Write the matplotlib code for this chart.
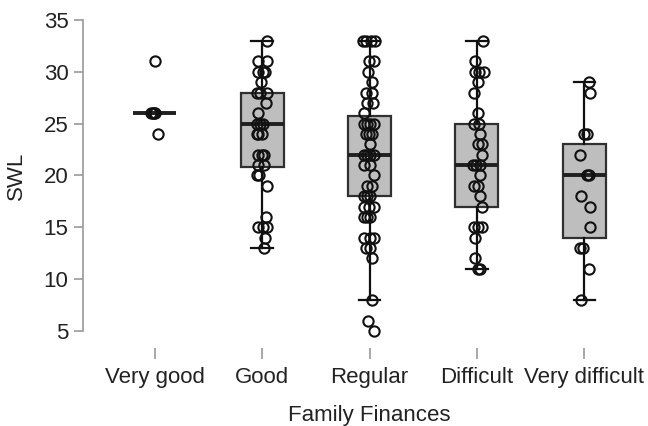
import matplotlib
matplotlib.use("Agg")
import matplotlib.pyplot as plt

plt.rcParams['font.family'] = ['Liberation Sans', 'DejaVu Sans']

categories = ["Very good", "Good", "Regular", "Difficult", "Very difficult"]

# box statistics
q1 = [26, 20.8, 18.0, 17.0, 14.0]
medians = [26, 25.0, 22.0, 21.0, 20.0]
q3 = [26, 28.0, 25.75, 25.0, 23.0]
whisk_lo = [26, 13, 8, 11, 8]
whisk_hi = [26, 33, 33, 33, 29]

# individual observations (value) and their horizontal jitter as seen
vg_vals = [31, 26, 26, 26, 26, 24]
vg_jit = [0.0, -0.033, -0.02, -0.008, 0.005, 0.03]

good_vals = [33, 31, 31, 30, 30, 30, 29, 28, 28, 28, 27, 26, 25, 25, 25,
             24, 24, 24, 22, 22, 22, 21, 21, 20, 20, 19, 16, 15, 15, 15, 14, 13]
good_jit = [0.044, -0.034, 0.044, -0.034, 0.012, 0.028, -0.01, -0.05, -0.019, 0.044,
            0.034, -0.034, -0.05, -0.019, 0.012, -0.05, -0.034, -0.003, -0.034, -0.003,
            0.022, -0.034, 0.022, -0.05, -0.025, 0.044, 0.034, -0.034, 0.012, 0.044,
            0.028, 0.022]

reg_vals = [33, 33, 33, 33, 31, 31, 30, 29, 28, 28, 27, 27, 26, 25, 25, 25, 25,
            24, 24, 24, 23, 22, 22, 22, 22, 21, 21, 20, 19, 19, 18, 18, 18,
            17, 17, 17, 16, 16, 16, 14, 14, 14, 13, 13, 12, 8, 6, 5]
reg_jit = [-0.062, -0.031, 0.016, 0.047, -0.006, 0.04, -0.016, 0.025, -0.037, 0.025,
           -0.028, 0.034, -0.053, -0.053, -0.022, 0.009, 0.04, -0.037, -0.006, 0.025,
           0.003, -0.053, -0.022, 0.009, 0.04, -0.053, 0.009, 0.04, -0.028, 0.025,
           -0.053, -0.022, 0.009, -0.053, -0.006, 0.04, -0.053, -0.022, 0.009,
           -0.053, 0.009, 0.04, -0.037, 0.003, 0.025, 0.025, -0.016, 0.04]

dif_vals = [33, 31, 30, 30, 30, 29, 28, 26, 25, 25, 24, 23, 23, 22, 21, 21, 21,
            20, 19, 19, 18, 17, 15, 15, 15, 14, 12, 11, 11]
dif_jit = [0.053, -0.016, -0.016, 0.022, 0.062, 0.012, -0.025, 0.006, -0.025, 0.022,
           0.031, 0.012, 0.044, 0.044, -0.04, -0.009, 0.031, 0.031, -0.025, 0.012,
           0.031, 0.044, -0.025, 0.006, 0.044, -0.016, -0.016, 0.012, 0.031]

vd_vals = [29, 28, 24, 24, 22, 20, 20, 18, 17, 15, 13, 13, 11, 8]
vd_jit = [0.04, 0.05, -0.006, 0.025, -0.044, 0.025, 0.04, -0.031, 0.05, 0.05,
          -0.044, -0.016, 0.04, -0.028]

values = [vg_vals, good_vals, reg_vals, dif_vals, vd_vals]
jitters = [vg_jit, good_jit, reg_jit, dif_jit, vd_jit]

fig = plt.figure(figsize=(6.48, 4.26), dpi=100)
ax = fig.add_axes([0.1559, 0.1939, 0.8287, 0.7883])

stats = []
for i, c in enumerate(categories):
    stats.append(dict(label=c, med=medians[i], q1=q1[i], q3=q3[i],
                      whislo=whisk_lo[i], whishi=whisk_hi[i], fliers=[]))

positions = list(range(1, len(categories) + 1))
ax.bxp(stats, positions=positions, widths=0.4, capwidths=0.2, patch_artist=True,
       showfliers=False,
       boxprops=dict(facecolor='#bebebe', edgecolor='#303030', linewidth=1.6),
       medianprops=dict(color='#202020', linewidth=2.8, solid_capstyle='butt'),
       whiskerprops=dict(color='#101010', linewidth=1.6),
       capprops=dict(color='#101010', linewidth=1.6))

for pos, vals, jit in zip(positions, values, jitters):
    xs = [pos + j for j in jit]
    ax.plot(xs, vals, linestyle='none', marker='o', markersize=7.4,
            markerfacecolor='none', markeredgecolor='#111111',
            markeredgewidth=1.5, zorder=5)

ax.set_xlim(0.5, 5.5)
ax.set_ylim(3.8, 36.2)
ax.set_yticks([5, 10, 15, 20, 25, 30, 35])
ax.set_xticks(positions)
ax.set_xticklabels(categories)

for s in ['top', 'right', 'bottom']:
    ax.spines[s].set_visible(False)
ax.spines['left'].set_position(('outward', 13))
ax.spines['left'].set_bounds(5, 35)
ax.spines['left'].set_color('#9a9a9a')
ax.spines['left'].set_linewidth(1.2)
ax.spines['bottom'].set_position(('outward', 3))

ax.tick_params(axis='y', length=6.5, width=1.2, color='#9a9a9a', pad=4,
               labelsize=16, labelcolor='#222222')
ax.tick_params(axis='x', length=8, width=1.2, color='#9a9a9a', pad=6,
               labelsize=16, labelcolor='#222222')

ax.set_xlabel("Family Finances", fontsize=16, color='#222222', labelpad=12)
ax.set_ylabel("SWL", fontsize=16, color='#222222')
ax.yaxis.set_label_coords(-0.137, 0.5)

fig.savefig("out.png", dpi=100)
